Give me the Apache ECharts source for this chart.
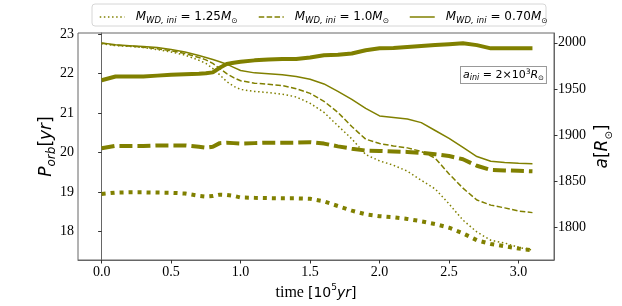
<!DOCTYPE html>
<html>
<head>
<meta charset="utf-8">
<script src="https://cdn.jsdelivr.net/npm/echarts@6/dist/echarts.min.js"></script>
<style>html,body{margin:0;padding:0;background:#fff}#c{width:622px;height:306px}</style>
</head>
<body>
<div id="c"></div>
<script>
// time [10^5 yr]
var times = [0,0.1,0.2,0.3,0.4,0.5,0.6,0.7,0.75,0.8,0.85,0.9,0.95,1.0,1.1,1.2,1.3,1.4,1.5,1.6,1.7,1.8,1.9,2.0,2.1,2.2,2.3,2.4,2.5,2.6,2.7,2.8,2.9,3.0,3.1];
// P_orb [yr] (left axis)
var porb070 = [22.78,22.73,22.71,22.69,22.66,22.61,22.55,22.46,22.41,22.36,22.30,22.24,22.16,22.08,22.02,22.00,21.97,21.93,21.86,21.74,21.55,21.35,21.12,20.93,20.89,20.85,20.76,20.56,20.36,20.13,19.90,19.78,19.75,19.73,19.72];
var porb100 = [22.77,22.72,22.70,22.67,22.63,22.58,22.51,22.41,22.35,22.26,22.13,22.00,21.90,21.82,21.76,21.73,21.70,21.62,21.50,21.30,21.02,20.66,20.34,20.23,20.17,20.12,20.03,19.86,19.46,19.10,18.80,18.67,18.60,18.52,18.48];
var porb125 = [22.76,22.71,22.69,22.66,22.61,22.55,22.47,22.34,22.26,22.13,21.97,21.80,21.68,21.60,21.55,21.52,21.48,21.41,21.25,21.02,20.68,20.35,19.95,19.79,19.68,19.53,19.30,19.08,18.70,18.29,17.99,17.78,17.71,17.60,17.53];
// a [R_sun] (right axis)
var a070 = [1959.5,1963.5,1963.5,1963.5,1964.5,1965.5,1966,1966.5,1967,1968,1973,1977,1978.5,1979.5,1981,1982,1982.5,1982.5,1984,1986.5,1987,1988.5,1992,1994,1994.5,1995.5,1996.5,1997.5,1998.5,1999.5,1997.5,1994,1994,1994,1994];
var a100 = [1886,1888.5,1888.5,1888.5,1889,1889,1889,1887.5,1886.5,1887.5,1891.5,1892,1891.5,1891,1891.5,1892,1892,1892,1892.5,1891,1888,1885.5,1883.5,1883,1882.5,1882,1881,1879.5,1877.5,1874,1867,1862.5,1862,1861.5,1861];
var a125 = [1836.5,1838,1838.3,1838.3,1838,1837.8,1837,1834.5,1833.7,1834.2,1835.8,1835.5,1834.5,1832.7,1832.3,1832,1831.8,1831.8,1831.3,1828.5,1823.5,1818.5,1814.5,1812.5,1811.3,1809.5,1807,1804,1800,1794,1786.5,1782.5,1780,1777.5,1775.5];
var xTicks = [0,0.5,1.0,1.5,2.0,2.5,3.0];
var leftTicks = [18,19,20,21,22,23];
var rightTicks = [1800,1850,1900,1950,2000];
var legendNames = ['m125','m100','m070'];
var legendMasses = ['1.25','1.0','0.70'];

var OLIVE = '#808000';
function pairs(v){ return times.map(function(t,i){ return [t, v[i]]; }); }

var subRich = {
  i:{fontFamily:'DejaVu Sans',fontStyle:'italic',fontSize:12,lineHeight:16,verticalAlign:'middle',color:'#000'},
  n:{fontFamily:'DejaVu Sans',fontSize:12,lineHeight:16,verticalAlign:'middle',color:'#000'},
  s:{fontFamily:'DejaVu Sans',fontStyle:'italic',fontSize:8.5,lineHeight:8,verticalAlign:'bottom',color:'#000'},
  o:{fontFamily:'DejaVu Sans',fontSize:7.5,lineHeight:7,verticalAlign:'bottom',color:'#000'}
};

function legendCfg(idx, left){
  return {
    left: left, top: 6, data:[legendNames[idx]], itemWidth:25, itemHeight:14,
    itemStyle:{opacity:0},
    lineStyle:{width:1.5},
    textStyle:{ rich: subRich, padding:[0,0,0,6] },
    formatter: function(){ return '{i|M}{s|WD, ini}{n| = '+legendMasses[idx]+'}{i|M}{o|⊙}'; }
  };
}

var chart = echarts.init(document.getElementById('c'), null, {renderer:'canvas'});
var axisLblSerif = {fontFamily:'Liberation Serif', fontSize:14, color:'#000'};
chart.setOption({
  animation:false,
  grid:{left:78,right:63,top:33,bottom:41,show:true,borderColor:'#666',borderWidth:1,backgroundColor:'transparent'},
  legend:[legendCfg(0,94),legendCfg(1,253),legendCfg(2,404)],
  graphic:[
    {type:'rect',shape:{x:92,y:4,width:454,height:22,r:3},style:{fill:'rgba(255,255,255,0)',stroke:'#d6d6d6',lineWidth:1},z:-1},
    {type:'text',x:461,y:67,z:10,style:{
      text:'{i|a}{s|ini}{n| = 2×10}{p|3}{i|R}{o|⊙}',
      rich:{
        i:{fontFamily:'DejaVu Sans',fontStyle:'italic',fontSize:11,lineHeight:14,verticalAlign:'middle',color:'#000'},
        n:{fontFamily:'DejaVu Sans',fontSize:11,lineHeight:14,verticalAlign:'middle',color:'#000'},
        s:{fontFamily:'DejaVu Sans',fontStyle:'italic',fontSize:8,lineHeight:8,verticalAlign:'bottom',color:'#000'},
        p:{fontFamily:'DejaVu Sans',fontSize:7.5,lineHeight:7,verticalAlign:'top',color:'#000'},
        o:{fontFamily:'DejaVu Sans',fontSize:7,lineHeight:7,verticalAlign:'bottom',color:'#000'}
      },
      backgroundColor:'#fff',borderColor:'#999',borderWidth:1,padding:[1,2,1,2]
    }}
  ],
  xAxis:{
    type:'value', min:-0.17, max:3.255,
    name:'{t|time }{n|[10}{p|5}{i|yr}{n|]}', nameLocation:'middle', nameGap:23, nameMoveOverlap:false,
    nameTextStyle:{rich:{
      t:{fontFamily:'Liberation Serif',fontSize:16,lineHeight:20,verticalAlign:'middle',color:'#000'},
      n:{fontFamily:'DejaVu Sans',fontSize:14,lineHeight:20,verticalAlign:'middle',color:'#000'},
      i:{fontFamily:'DejaVu Sans',fontStyle:'italic',fontSize:14,lineHeight:20,verticalAlign:'middle',color:'#000'},
      p:{fontFamily:'DejaVu Sans',fontSize:9,lineHeight:9,verticalAlign:'top',color:'#000'}
    }},
    axisLine:{show:true,lineStyle:{color:'#666'}},
    axisTick:{show:true,length:3.5,customValues:xTicks,lineStyle:{color:'#333'}},
    axisLabel:Object.assign({customValues:xTicks,margin:5,formatter:function(v){return v.toFixed(1);}},axisLblSerif),
    splitLine:{show:false}
  },
  yAxis:[{
    type:'value', min:17.28, max:23.03, position:'left',
    name:'{i|P}{s|orb}{n|[}{i|yr}{n|]}', nameLocation:'middle', nameGap:20, nameRotate:90, nameMoveOverlap:false,
    nameTextStyle:{rich:{
      i:{fontFamily:'DejaVu Sans',fontStyle:'italic',fontSize:17,lineHeight:22,verticalAlign:'middle',color:'#000'},
      n:{fontFamily:'DejaVu Sans',fontSize:17,lineHeight:22,verticalAlign:'middle',color:'#000'},
      s:{fontFamily:'DejaVu Sans',fontStyle:'italic',fontSize:12,lineHeight:12,verticalAlign:'bottom',color:'#000'}
    }},
    axisLine:{show:true,lineStyle:{color:'#666'}},
    axisTick:{show:true,length:3.5,customValues:leftTicks,lineStyle:{color:'#333'}},
    axisLabel:Object.assign({customValues:leftTicks,margin:4},axisLblSerif),
    splitLine:{show:false}
  },{
    type:'value', min:1765.1, max:2010.6, position:'right',
    name:'{i|a}{n|[}{i|R}{o|⊙}{n|]}', nameLocation:'middle', nameGap:38, nameRotate:90, nameMoveOverlap:false,
    nameTextStyle:{rich:{
      i:{fontFamily:'DejaVu Sans',fontStyle:'italic',fontSize:17,lineHeight:22,verticalAlign:'middle',color:'#000'},
      n:{fontFamily:'DejaVu Sans',fontSize:17,lineHeight:22,verticalAlign:'middle',color:'#000'},
      o:{fontFamily:'DejaVu Sans',fontSize:10,lineHeight:10,verticalAlign:'bottom',color:'#000'}
    }},
    axisLine:{show:true,lineStyle:{color:'#666'}},
    axisTick:{show:true,length:3.5,customValues:rightTicks,lineStyle:{color:'#333'}},
    axisLabel:Object.assign({customValues:rightTicks,margin:4,formatter:function(v){return String(v);}},axisLblSerif),
    splitLine:{show:false}
  }],
  series:[
    {name:'m125',type:'line',yAxisIndex:0,data:pairs(porb125),symbol:'none',lineStyle:{color:OLIVE,width:1.5,type:[1.5,2.6]},itemStyle:{color:OLIVE}},
    {name:'m100',type:'line',yAxisIndex:0,data:pairs(porb100),symbol:'none',lineStyle:{color:OLIVE,width:1.5,type:[5.5,2.4]},itemStyle:{color:OLIVE}},
    {name:'m070',type:'line',yAxisIndex:0,data:pairs(porb070),symbol:'none',lineStyle:{color:OLIVE,width:1.5},itemStyle:{color:OLIVE}},
    {name:'a125',type:'line',yAxisIndex:1,data:pairs(a125),symbol:'none',lineStyle:{color:OLIVE,width:4,type:[4,5]},itemStyle:{color:OLIVE}},
    {name:'a100',type:'line',yAxisIndex:1,data:pairs(a100),symbol:'none',lineStyle:{color:OLIVE,width:4,type:[13,5]},itemStyle:{color:OLIVE}},
    {name:'a070',type:'line',yAxisIndex:1,data:pairs(a070),symbol:'none',lineStyle:{color:OLIVE,width:4},itemStyle:{color:OLIVE}}
  ]
});
</script>
</body>
</html>
